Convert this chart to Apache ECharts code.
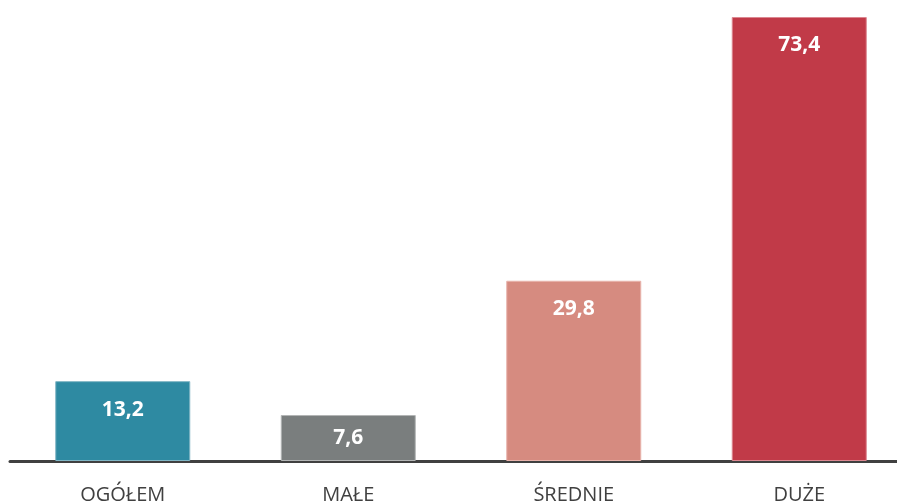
<!DOCTYPE html>
<html>
<head>
<meta charset="utf-8">
<script src="https://cdn.jsdelivr.net/npm/echarts@6/dist/echarts.min.js"></script>
<style>
  html, body { margin: 0; padding: 0; background: #fff; overflow: hidden; }
  /* chart is a bit wider than the window so the last category slot fits, the right edge is cut off */
  #chart { width: 912px; height: 502px; }
</style>
</head>
<body>
<div id="chart"></div>
<script>
const categories = ['OGÓŁEM', 'MAŁE', 'ŚREDNIE', 'DUŻE']
const values = [13.2, 7.6, 29.8, 73.4]
const colors = ['#2E8AA2', '#7A7E7E', '#D68B80', '#C13A48']
const borders = ['#7FB5C4', '#B3B5B5', '#E8B3AB', '#DC8790']

const chart = echarts.init(document.getElementById('chart'))
chart.setOption({
  animation: false,
  grid: { left: 10, right: 0, top: 17, bottom: 41, outerBoundsMode: 'none' },
  xAxis: {
    type: 'category',
    data: categories,
    axisTick: { show: false },
    axisLine: { lineStyle: { color: '#404040', width: 3 } },
    axisLabel: {
      color: '#404040',
      fontSize: 20,
      fontFamily: 'Open Sans',
      margin: 24
    }
  },
  yAxis: {
    type: 'value',
    min: 0,
    max: 73.4,
    show: false
  },
  series: [
    {
      type: 'bar',
      barWidth: 135,
      data: values.map((v, i) => ({
        value: v,
        itemStyle: { color: colors[i], borderColor: borders[i], borderWidth: 1 },
        // short bar: label sits in the middle
        label: v < 10 ? { position: 'inside' } : undefined
      })),
      label: {
        show: true,
        position: 'insideTop',
        distance: 18,
        color: '#fff',
        fontSize: 21,
        fontWeight: 'bold',
        fontFamily: 'Open Sans',
        formatter: p => String(p.value).replace('.', ',')
      }
    }
  ]
})
</script>
</body>
</html>
